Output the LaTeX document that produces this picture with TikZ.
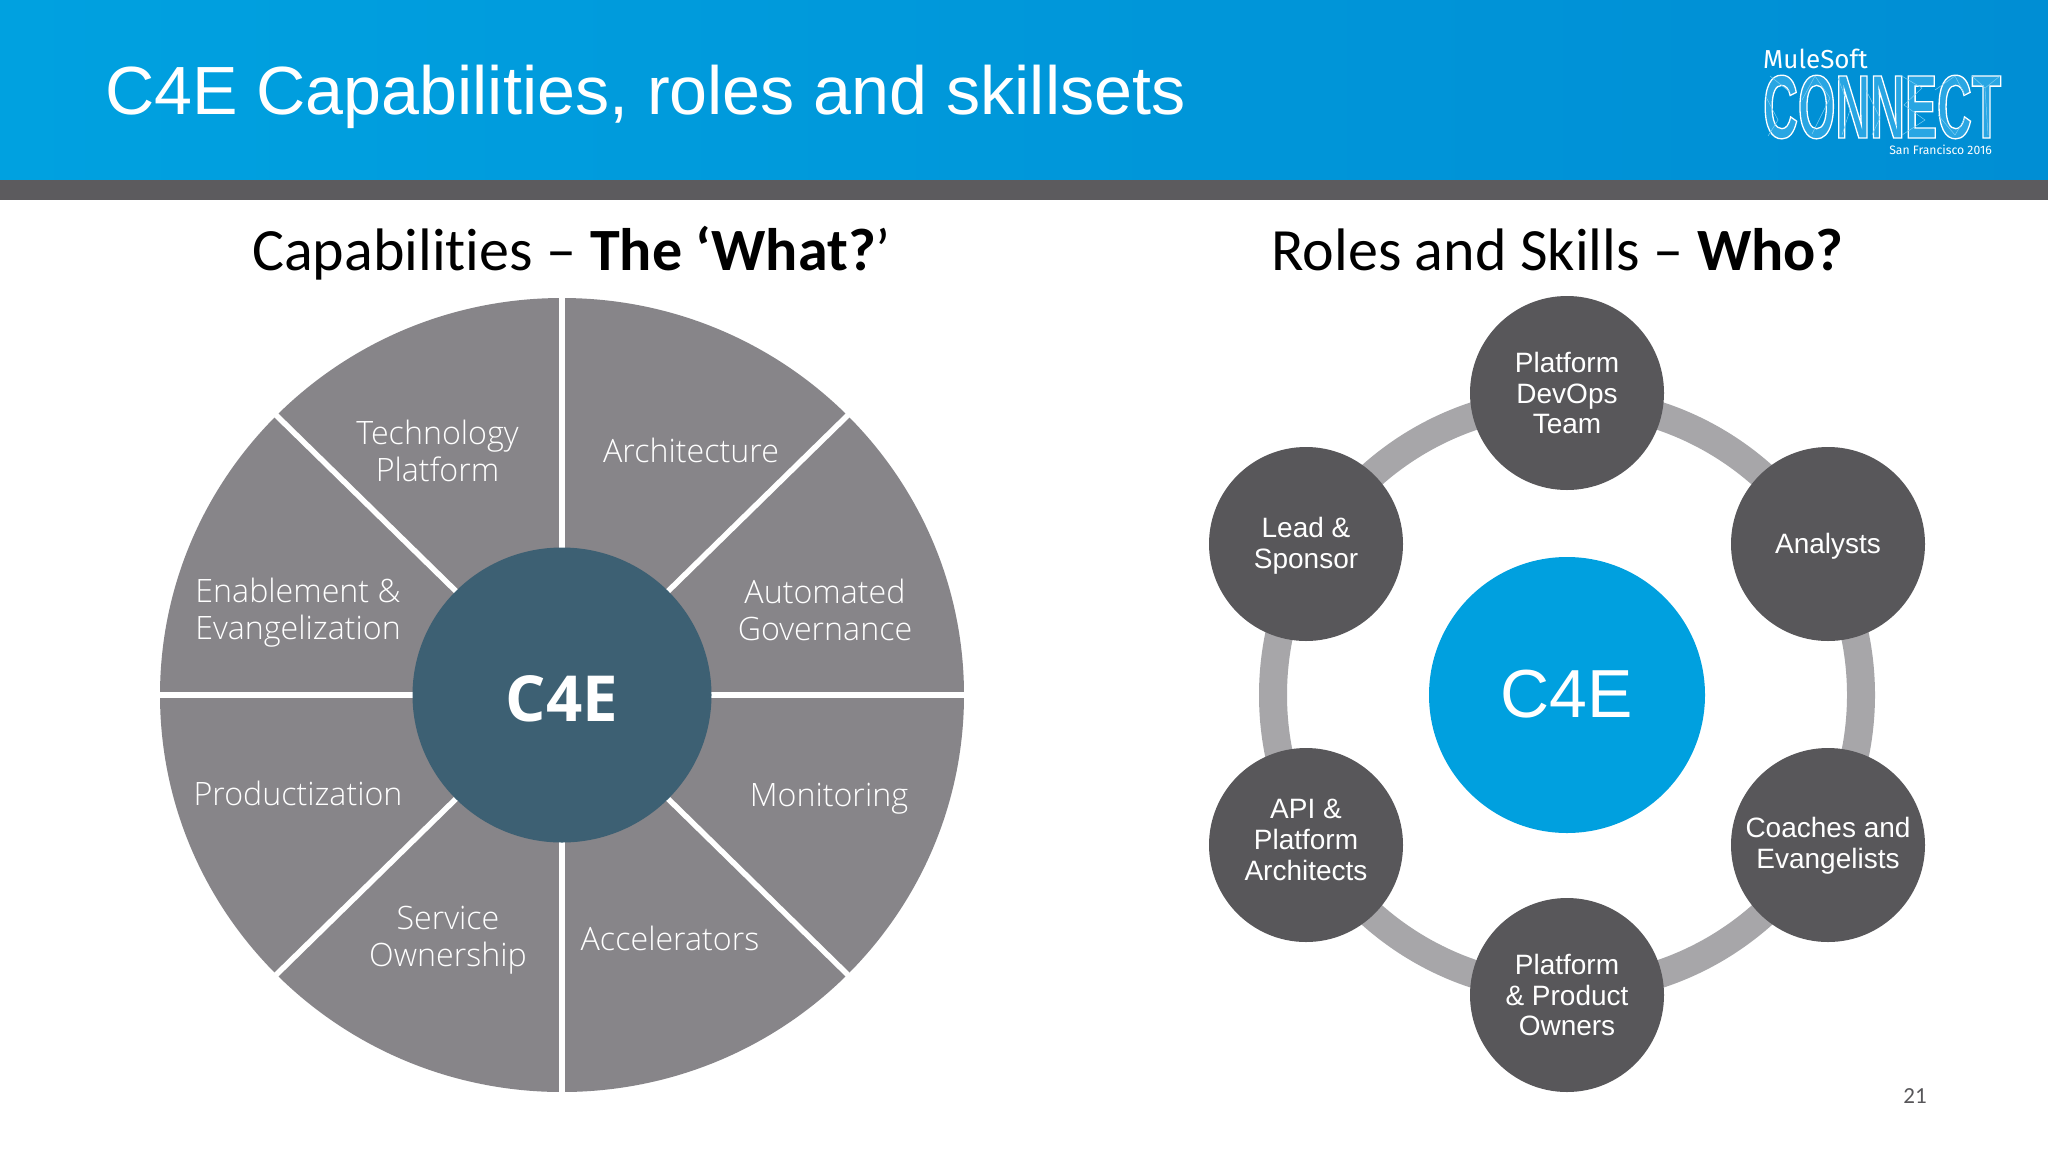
\documentclass[tikz,border=0pt]{standalone}
\usepackage{fontspec}
\setmainfont{Liberation Sans}
\newfontfamily\carl[Ligatures=NoCommon]{Carlito}
\newfontfamily\opens{Open Sans}
\newfontfamily\opensl{Open Sans Light}
\newfontfamily\logofont[FakeStretch=0.535]{Liberation Sans}
\newfontfamily\logosmall{Fira Sans}
\usetikzlibrary{shapes.geometric,calc}
\definecolor{hdrL}{RGB}{0,161,224}
\definecolor{hdrR}{RGB}{0,142,212}
\definecolor{band}{RGB}{92,91,94}
\definecolor{wheel}{RGB}{135,133,137}
\definecolor{hub}{RGB}{61,96,115}
\definecolor{cyanC}{RGB}{0,160,223}
\definecolor{dark}{RGB}{88,87,90}
\definecolor{ringc}{RGB}{167,166,169}
\definecolor{mesh}{RGB}{125,205,242}
\newcommand{\fs}[1]{\fontsize{#1pt}{#1pt}\selectfont}
\tikzset{
  x=1pt,y=-1pt,
  seglabel/.style={text=white,align=center,font=\opensl\fontsize{32.2pt}{37pt}\selectfont,inner sep=0},
  rolecirc/.style={circle,fill=dark,minimum size=194pt,inner sep=0},
  rolelabel/.style={inner sep=0,text=white,align=center,font=\fontsize{28pt}{30.7pt}\selectfont},
  spoke/.style={white,line width=5.5pt},
  heading/.style={anchor=base,inner sep=0,text=black,font=\carl\fontsize{60pt}{64pt}\selectfont},
  meshline/.style={mesh,line width=0.5pt},
}
\begin{document}
\begin{tikzpicture}
\useasboundingbox (0,0) rectangle (2048,1152);
\fill[white] (0,0) rectangle (2048,1152);
\fill[left color=hdrL,right color=hdrR] (0,0) rectangle (2048,180);
\fill[band] (0,180) rectangle (2048,200);
\node[anchor=base west,inner sep=0,text=white,font=\fs{68.2}] (title) at (105,114) {C4E Capabilities, roles and skillsets};
% logo
\node[anchor=base west,inner sep=0,text=white,font=\logosmall\fs{26}] (mule) at (1763,68) {MuleSoft};
\node[anchor=base west,inner sep=0,text=white,font=\logofont\bfseries\fs{90}] (connect) at (1763,138) {\special{pdf:code 0.16 0.65 0.89 rg 1 1 1 RG 2 Tr 1.3 w}CONNECT\special{pdf:code 0 Tr 1 1 1 rg}};
\draw[meshline] (1765,95) -- (1778,120) -- (1768,136) (1770,76) -- (1790,92) (1802,100) -- (1815,76) -- (1830,98) -- (1812,134)
  (1838,78) -- (1850,110) -- (1842,135) (1866,90) -- (1880,118) -- (1872,135) (1900,75) -- (1922,88) -- (1904,105) -- (1925,120) -- (1902,135)
  (1935,90) -- (1955,76) -- (1965,95) (1938,115) -- (1955,135) -- (1965,118) (1972,76) -- (1985,88) -- (2000,76) (1985,88) -- (1988,135);
\node[anchor=base east,inner sep=0,text=white,font=\logosmall\fs{12.2}] (sf) at (1992,154) {San Francisco 2016};
% headings
\node[heading] (h1) at (571.5,270) {Capabilities – \textbf{The ‘What?}’};
\node[heading] (h2) at (1557.5,270) {Roles and Skills – \textbf{Who?}};
% wheel
\fill[wheel] (562,695) ellipse [x radius=402,y radius=397];
\coordinate (wc) at (562,695);
\foreach \a/\n in {0/e,45/ne,90/n,135/nw,180/w,225/sw,270/s,315/se}{
  \coordinate (o\n) at ($(wc)+({425*cos(\a)},{-416*sin(\a)})$);
  \draw[spoke] (wc) -- (o\n);
}
\node[ellipse,fill=hub,minimum width=299pt,minimum height=295pt,inner sep=0,text=white,font=\opens\bfseries\fs{63.5},text height=52pt,text depth=0pt] (hubc) at (562,695) {C4E};
\node[seglabel] (l1) at (437.5,451) {Technology\\Platform};
\node[seglabel] (l2) at (691,450) {Architecture};
\node[seglabel] (l3) at (298,613) {Enablement \&\\Evangelization};
\node[seglabel] (l4) at (825,610) {Automated\\Governance};
\node[seglabel] (l5) at (298,793) {Productization};
\node[seglabel] (l6) at (829,799) {Monitoring};
\node[seglabel] (l7) at (448,940) {Service\\Ownership};
\node[seglabel] (l8) at (670,938) {Accelerators};
% right
\draw[ringc,line width=28pt] (1567,695) circle [radius=294];
\node[circle,fill=cyanC,minimum size=276pt,inner sep=0,text=white,font=\fs{68},text height=49pt,text depth=4pt] (cc) at (1567,695) {C4E};
\node[rolecirc] (r1) at (1567,393) {};
\node[rolecirc] (r2) at (1828,544) {};
\node[rolecirc] (r3) at (1828,845) {};
\node[rolecirc] (r4) at (1567,995) {};
\node[rolecirc] (r5) at (1306,845) {};
\node[rolecirc] (r6) at (1306,544) {};
\node[rolelabel] (t1) at (1567,393) {Platform\\DevOps\\Team};
\node[rolelabel] (t2) at (1828,546) {Analysts};
\node[rolelabel] (t3) at (1828,846) {Coaches and\\Evangelists};
\node[rolelabel] (t4) at (1567,995) {Platform\\\&\ Product\\Owners};
\node[rolelabel] (t5) at (1306,840) {API \&\\Platform\\Architects};
\node[rolelabel] (t6) at (1306,546) {Lead \&\\Sponsor};
\node[anchor=base,inner sep=0,text=dark,font=\carl\fs{23}] (pg) at (1915,1103) {21};
\end{tikzpicture}
\end{document}
